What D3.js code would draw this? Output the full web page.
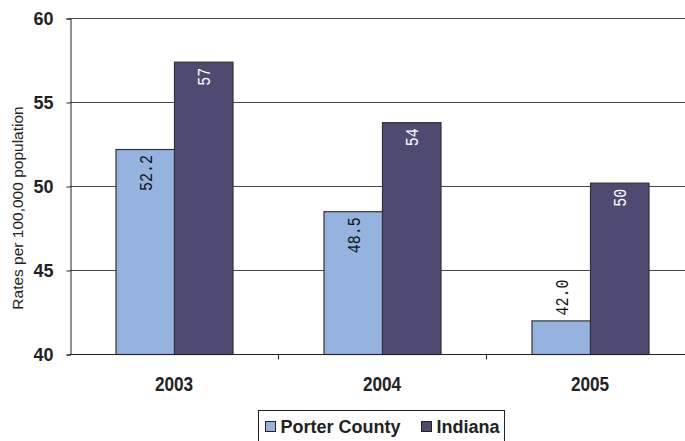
<!DOCTYPE html>
<html>
<head>
<meta charset="utf-8">
<script src="https://cdn.jsdelivr.net/npm/d3@7"></script>
<style>
  body { margin: 0; background: #fff; }
  svg text { font-family: "Liberation Sans", Arial, sans-serif; }
</style>
</head>
<body>
<svg id="chart" width="685" height="441"></svg>
<script>
var years = ["2003", "2004", "2005"];
var seriesNames = ["Porter County", "Indiana"];
var porter = [52.2, 48.5, 42.0];
var porterLabels = ["52.2", "48.5", "42.0"];
var indiana = [57.4, 53.8, 50.2];
var indianaLabels = ["57", "54", "50"];
var yTicks = [40, 45, 50, 55, 60];
var colors = ["#95b3de", "#4f4a72"];

var svg = d3.select("#chart");
var plotL = 70, plotR = 694, plotT = 18, plotB = 354;

var x0 = d3.scaleBand().domain(years).range([plotL, plotR])
    .paddingInner(0.4375).paddingOuter(0.21875);
var x1 = d3.scaleBand().domain(seriesNames).range([0, x0.bandwidth()]);
var y = d3.scaleLinear().domain([40, 60]).range([plotB, plotT]);

// gridlines
svg.append("g").selectAll("line")
    .data(yTicks.slice(1))
    .enter().append("line")
    .attr("x1", plotL).attr("x2", 685)
    .attr("y1", function (d) { return y(d) + 0.5; })
    .attr("y2", function (d) { return y(d) + 0.5; })
    .style("stroke", "#4a4a4a").style("stroke-width", 1);

var rows = years.map(function (yr, i) {
    return { year: yr, vals: [
        { s: seriesNames[0], v: porter[i], label: porterLabels[i] },
        { s: seriesNames[1], v: indiana[i], label: indianaLabels[i] }
    ] };
});

var groups = svg.append("g").selectAll("g")
    .data(rows).enter().append("g")
    .attr("transform", function (d) { return "translate(" + x0(d.year) + ",0)"; });

groups.selectAll("rect")
    .data(function (d) { return d.vals; })
    .enter().append("rect")
    .attr("x", function (d) { return x1(d.s) + 0.5; })
    .attr("width", x1.bandwidth())
    .attr("y", function (d) { return y(d.v) + 0.5; })
    .attr("height", function (d) { return plotB - y(d.v); })
    .style("fill", function (d, i) { return colors[i]; })
    .style("stroke", "#333").style("stroke-width", 1.2);

// value labels, rotated; short bars get the label above
function isShort(d) { return plotB - y(d.v) < 50; }
groups.selectAll("text")
    .data(function (d) { return d.vals; })
    .enter().append("text")
    .attr("transform", function (d) {
        var cx = x1(d.s) + x1.bandwidth() / 2 + 7;
        var ty = isShort(d) ? y(d.v) - 5 : y(d.v) + 6;
        return "translate(" + cx + "," + ty + ") rotate(-90) scale(1,1.2)";
    })
    .attr("text-anchor", function (d) { return isShort(d) ? "start" : "end"; })
    .style("font-family", "'Liberation Mono', 'DejaVu Sans Mono', monospace")
    .style("font-size", "15px")
    .style("fill", function (d, i) { return i === 1 ? "#fff" : "#111"; })
    .text(function (d) { return d.label; });

// y axis
var yAxis = svg.append("g")
    .attr("transform", "translate(" + (plotL + 0.5) + ",0.5)")
    .call(d3.axisLeft(y).tickValues(yTicks).tickSize(4).tickPadding(13));
yAxis.select(".domain").attr("stroke", "#222");
yAxis.selectAll(".tick line").attr("stroke", "#222");
yAxis.selectAll("text")
    .style("font-size", "18px").style("font-weight", "bold").style("fill", "#222");

// x axis
var xAxis = svg.append("g")
    .attr("transform", "translate(0," + (plotB + 0.5) + ")");
xAxis.append("line").attr("x1", plotL).attr("x2", 685)
    .style("stroke", "#222");
xAxis.selectAll(".sep")
    .data(years.slice(1)).enter().append("line")
    .attr("x1", function (d) { return x0(d) - x0.step() * x0.paddingInner() / 2 + 0.5; })
    .attr("x2", function (d) { return x0(d) - x0.step() * x0.paddingInner() / 2 + 0.5; })
    .attr("y1", 0).attr("y2", 5)
    .style("stroke", "#222");
xAxis.selectAll(".yr")
    .data(years).enter().append("text")
    .attr("transform", function (d) {
        return "translate(" + (x0(d) + x0.bandwidth() / 2) + ",36) scale(0.86,1)";
    })
    .attr("text-anchor", "middle")
    .style("font-size", "20px").style("font-weight", "bold").style("fill", "#222")
    .text(function (d) { return d; });

// y title
svg.append("text")
    .attr("transform", "translate(23,208) rotate(-90)")
    .attr("text-anchor", "middle")
    .style("font-size", "15.5px").style("fill", "#222")
    .text("Rates per 100,000 population");

// legend
var legend = svg.append("g").attr("transform", "translate(258.5,410.5)");
legend.append("rect").attr("width", 246).attr("height", 34)
    .style("fill", "#fff").style("stroke", "#222");
var items = legend.selectAll(".item")
    .data(seriesNames).enter().append("g")
    .attr("transform", function (d, i) { return "translate(" + (i === 0 ? 7 : 163) + ",11)"; });
items.append("rect").attr("width", 10).attr("height", 10)
    .style("fill", function (d, i) { return colors[i]; })
    .style("stroke", "#222");
items.append("text").attr("x", 15).attr("y", 11)
    .style("font-size", "18px").style("font-weight", "bold").style("fill", "#222")
    .text(function (d) { return d; });
</script>
</body>
</html>
